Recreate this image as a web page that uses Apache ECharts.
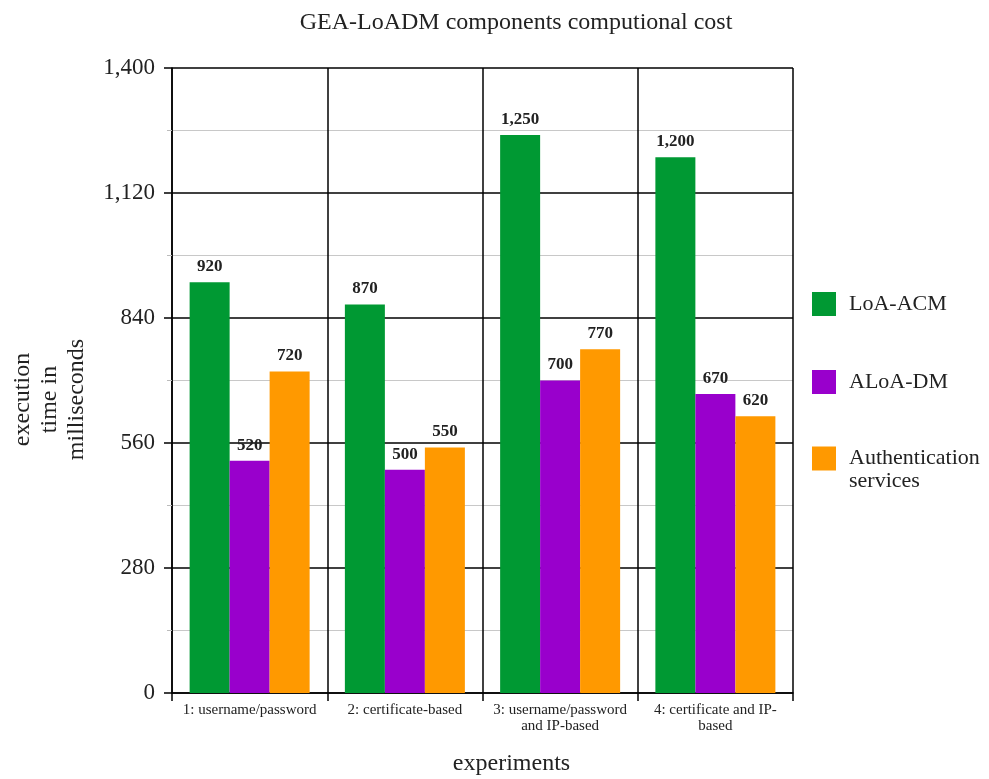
<!DOCTYPE html>
<html>
<head>
<meta charset="utf-8">
<script src="https://cdn.jsdelivr.net/npm/echarts@6/dist/echarts.min.js"></script>
<style>
html,body{margin:0;padding:0;background:#fff;}
#chart{width:989px;height:779px;}
</style>
</head>
<body>
<div id="chart"></div>
<script>
var categories = ['1: username/password', '2: certificate-based', '3: username/password\nand IP-based', '4: certificate and IP-\nbased'];
var seriesNames = ['LoA-ACM', 'ALoA-DM', 'Authentication services'];
var loaAcm = [920, 870, 1250, 1200];
var aloaDm = [520, 500, 700, 670];
var authServices = [720, 550, 770, 620];
var yTicks = [0, 280, 560, 840, 1120, 1400];

var FONT = '"Liberation Serif", "Times New Roman", serif';
function fmt(v){ return Number(v).toLocaleString('en-US'); }

var chart = echarts.init(document.getElementById('chart'), null, {renderer:'canvas'});
var labelCfg = {
  show: true, position: 'top', distance: 7,
  fontFamily: FONT, fontWeight: 'bold', fontSize: 17, color: '#222',
  formatter: function(p){ return fmt(p.value); }
};
function mk(name, data, color){
  return {
    name: name, type: 'bar', data: data, barWidth: 40, barGap: '0%',
    itemStyle: {color: color}, label: labelCfg, z: 3
  };
}
chart.setOption({
  animation: false,
  backgroundColor: '#fff',
  title: {
    text: 'GEA-LoADM components computional cost',
    left: 511, top: 6, textAlign: 'center',
    textStyle: {fontFamily: FONT, fontWeight: 'normal', fontSize: 24, color: '#222'}
  },
  legend: [{
    orient: 'vertical', left: 807, top: 287,
    itemWidth: 24, itemHeight: 24, itemGap: 54,
    icon: 'rect',
    data: [seriesNames[0], seriesNames[1]],
    textStyle: {fontFamily: FONT, fontSize: 22, color: '#222', lineHeight: 23, padding: [0,0,0,8]}
  }, {
    orient: 'vertical', left: 807, top: 419,
    itemWidth: 24, itemHeight: 24,
    icon: 'rect',
    data: [seriesNames[2]],
    formatter: function(n){ return ' \nAuthentication\nservices'; },
    textStyle: {fontFamily: FONT, fontSize: 22, color: '#222', lineHeight: 23, padding: [0,0,0,8]}
  }],
  grid: {left: 172, right: 196, top: 68, bottom: 86, containLabel: false, outerBoundsMode: 'none'},
  xAxis: {
    type: 'category', data: categories, boundaryGap: true,
    name: 'experiments', nameLocation: 'middle', nameGap: 59,
    nameTextStyle: {fontFamily: FONT, fontSize: 24, color: '#222', padding: [0, 0, 0, 58]},
    axisLine: {show: true, lineStyle: {color: '#000', width: 1.5}},
    axisTick: {show: true, length: 8, lineStyle: {color: '#000', width: 1.5}},
    splitLine: {show: true, lineStyle: {color: '#000', width: 1.5}},
    axisLabel: {fontFamily: FONT, fontSize: 15, color: '#222', margin: 9, lineHeight: 16, interval: 0}
  },
  yAxis: {
    type: 'value', min: 0, max: 1400, interval: 280,
    name: 'execution\ntime in\nmilliseconds', nameLocation: 'middle', nameGap: 82, nameRotate: 90,
    nameTextStyle: {fontFamily: FONT, fontSize: 24, color: '#222', lineHeight: 27, align: 'center', padding: [0, 38, 0, 0]},
    axisLine: {show: true, lineStyle: {color: '#000', width: 1.5}},
    axisTick: {show: true, length: 8, lineStyle: {color: '#000', width: 1.5}},
    minorTick: {show: true, splitNumber: 2, length: 5, lineStyle: {color: '#bbb', width: 1}},
    splitLine: {show: true, lineStyle: {color: '#000', width: 1.5}},
    minorSplitLine: {show: true, lineStyle: {color: '#c8c8c8', width: 1}},
    axisLabel: {fontFamily: FONT, fontSize: 23, color: '#222', margin: 17,
      formatter: function(v){ return yTicks.indexOf(v) >= 0 ? fmt(v) : ''; }}
  },
  series: [
    mk(seriesNames[0], loaAcm, '#009933'),
    mk(seriesNames[1], aloaDm, '#9900cc'),
    mk(seriesNames[2], authServices, '#ff9900')
  ]
});
</script>
</body>
</html>
